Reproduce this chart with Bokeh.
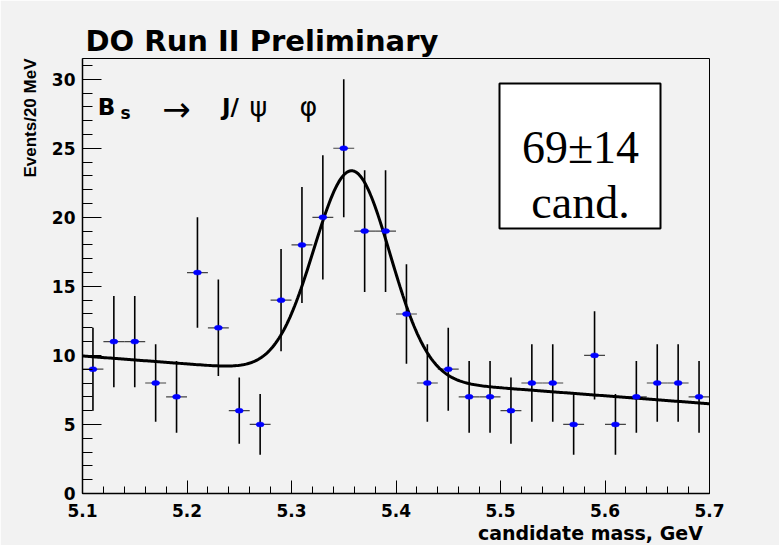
import numpy as np
from bokeh.plotting import figure
from bokeh.models import Range1d, FixedTicker, Label, BoxAnnotation, ColumnDataSource, Title
from bokeh.embed import file_html
from bokeh.resources import INLINE

# ---- data ----
mass = [5.11, 5.13, 5.15, 5.17, 5.19, 5.21, 5.23, 5.25, 5.27, 5.29,
        5.31, 5.33, 5.35, 5.37, 5.39, 5.41, 5.43, 5.45, 5.47, 5.49,
        5.51, 5.53, 5.55, 5.57, 5.59, 5.61, 5.63, 5.65, 5.67, 5.69]
events = [9, 11, 11, 8, 7, 16, 12, 6, 5, 14,
          18, 20, 25, 19, 19, 13, 8, 9, 7, 7,
          6, 8, 8, 5, 10, 5, 7, 8, 8, 7]
errors = [3.0, 3.3, 3.3, 2.8, 2.6, 4.0, 3.5, 2.4, 2.2, 3.7,
          4.2, 4.5, 5.0, 4.4, 4.4, 3.6, 2.8, 3.0, 2.6, 2.6,
          2.4, 2.8, 2.8, 2.2, 3.2, 2.2, 2.6, 2.8, 2.8, 2.6]
half_bin = 0.01

# fit (gaussian + linear background) parameters
fit_mean = 5.358
fit_sigma = 0.0365
fit_amp = 14.9
bg_at_start = 9.96
bg_slope = -5.77

x_major = [5.1, 5.2, 5.3, 5.4, 5.5, 5.6, 5.7]
x_major_labels = ["5.1", "5.2", "5.3", "5.4", "5.5", "5.6", "5.7"]
x_minor = [round(5.1 + 0.02 * i, 2) for i in range(31)]
y_major = [0, 5, 10, 15, 20, 25, 30]
y_minor = list(range(0, 32))

title_text = "DO  Run II Preliminary"
x_label = "candidate mass,  GeV"
y_label = "Events/20 MeV"

# ---- layout helpers (pixel -> data) ----
X0, X1, Y0, Y1 = 5.1, 5.7, 0.0, 31.5
FL, FR, FT, FB = 82, 709, 58, 493
def X(px):
    return X0 + (px - FL) * (X1 - X0) / (FR - FL)
def Y(py):
    return Y0 + (FB - py) * (Y1 - Y0) / (FB - FT)

p = figure(width=779, height=545, x_range=Range1d(X0, X1), y_range=Range1d(Y0, Y1),
           output_backend="svg", toolbar_location=None,
           min_border_left=FL, min_border_right=779 - FR,
           min_border_top=FT, min_border_bottom=545 - FB)
p.background_fill_color = "#f2f2f2"
p.border_fill_color = "#f2f2f2"
p.grid.visible = False
p.outline_line_color = "black"
p.outline_line_width = 1

# title
p.title.text = title_text
p.title.align = "left"
p.title.offset = 3
p.title.standoff = 2
p.title.text_font = "DejaVu Sans"
p.title.text_font_style = "bold"
p.title.text_font_size = "29px"
p.title.text_color = "black"

# axes
p.xaxis.ticker = FixedTicker(ticks=x_major, minor_ticks=x_minor)
p.xaxis.major_label_overrides = {t: l for t, l in zip(x_major, x_major_labels)}
p.yaxis.ticker = FixedTicker(ticks=y_major, minor_ticks=y_minor)
for ax in (p.xaxis[0], p.yaxis[0]):
    ax.major_tick_out = 0
    ax.minor_tick_out = 0
    ax.axis_line_color = "black"
    ax.axis_line_width = 1.5
    ax.major_tick_line_color = "black"
    ax.minor_tick_line_color = "black"
    ax.major_label_text_font = "DejaVu Sans"
    ax.major_label_text_font_style = "bold"
    ax.major_label_text_font_size = "17px"
    ax.major_label_text_color = "black"
p.xaxis.major_tick_in = 13
p.xaxis.minor_tick_in = 7
p.xaxis.major_label_standoff = 10
p.yaxis.major_tick_in = 19
p.yaxis.minor_tick_in = 10
p.yaxis.major_label_standoff = 7

# axis titles
p.add_layout(Title(text=x_label, align="right", offset=0, standoff=0,
                   text_font="DejaVu Sans", text_font_style="bold",
                   text_font_size="19px", text_color="black"), "below")
p.add_layout(Title(text=y_label, align="right", offset=0, standoff=18,
                   text_font="Liberation Sans", text_font_style="bold",
                   text_font_size="17px", text_color="black"), "left")

# data
m = np.array(mass)
ev = np.array(events, dtype=float)
er = np.array(errors)
src = ColumnDataSource(dict(x=m, y=ev, lo=ev - er, hi=ev + er,
                            xl=m - half_bin, xr=m + half_bin))
p.segment(x0="xl", y0="y", x1="xr", y1="y", source=src, line_color="#444444", line_width=1.2)
p.segment(x0="x", y0="lo", x1="x", y1="hi", source=src, line_color="black", line_width=1.6)

# fit curve
xf = np.linspace(X0, X1, 400)
yf = bg_at_start + bg_slope * (xf - X0) + fit_amp * np.exp(-0.5 * ((xf - fit_mean) / fit_sigma) ** 2)
p.line(xf, yf, line_color="black", line_width=3)

p.ellipse(x="x", y="y", width=8, height=5, width_units="screen", height_units="screen",
          source=src, fill_color="#0000ff", line_color="#0000ff", line_width=0.5)

# decay label
def lab(px, py, txt, size, bold=True, font="DejaVu Sans"):
    p.add_layout(Label(x=X(px), y=Y(py), text=txt, text_font=font,
                       text_font_style="bold" if bold else "normal", text_font_size=size,
                       text_baseline="alphabetic", text_align="center", text_color="black"))
lab(106, 106, "B", "23px")
lab(125, 112, "s", "17px")
lab(176, 108, "\u2192", "34px", bold=False)
lab(230, 106, "J/", "23px")
lab(258, 106, "\u03c8", "27px", bold=False)
lab(308, 106, "\u03c6", "27px", bold=False)

# candidates box
p.add_layout(BoxAnnotation(left=X(499), right=X(660), top=Y(83), bottom=Y(228),
                           fill_color="white", fill_alpha=1.0, line_color="black",
                           line_width=2, line_alpha=1.0))
p.add_layout(Label(x=X(580), y=Y(147), text="69\u00b114", text_font="Liberation Serif",
                   text_font_size="46px", text_baseline="alphabetic", text_align="center",
                   text_color="black"))
p.add_layout(Label(x=X(580), y=Y(202), text="cand.", text_font="Liberation Serif",
                   text_font_size="46px", text_baseline="alphabetic", text_align="center",
                   text_color="black"))

open("out.html", "w").write(file_html(p, INLINE))
